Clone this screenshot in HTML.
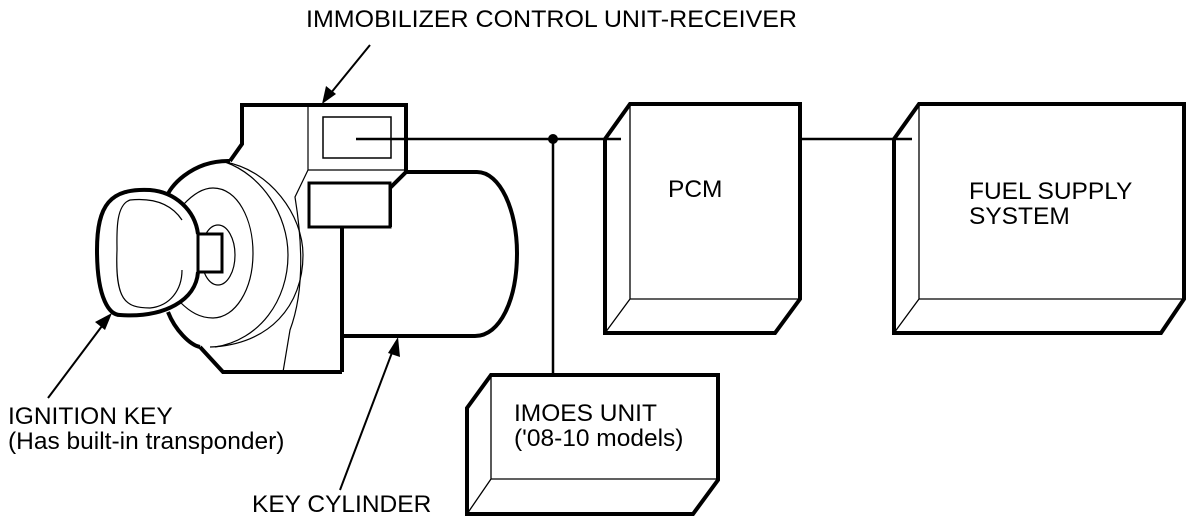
<!DOCTYPE html>
<html><head><meta charset="utf-8"><style>
html,body{margin:0;padding:0;background:#fff;width:1200px;height:522px;overflow:hidden}
svg{display:block}
text{font-family:"Liberation Sans",sans-serif;font-size:24.5px;fill:#000}
</style></head><body>
<svg width="1200" height="522" viewBox="0 0 1200 522" xmlns="http://www.w3.org/2000/svg">
<g fill="none" stroke="#000" stroke-linejoin="miter">
<!-- PCM -->
<path d="M605,139 L630,104 L800,104 L800,299 L775,333 L605,333 Z" stroke-width="4" fill="#fff"/>
<path d="M630,104 V299 H800 M630,299 L605,333" stroke-width="1.3"/>
<!-- Fuel -->
<path d="M894,139 L919,104 L1184,104 L1184,299 L1161,333 L894,333 Z" stroke-width="4" fill="#fff"/>
<path d="M919,104 V299 H1184 M919,299 L894,333" stroke-width="1.3"/>
<!-- IMOES -->
<path d="M467,408 L491,375 L718,375 L718,480 L693,514 L467,514 Z" stroke-width="4" fill="#fff"/>
<path d="M491,375 V479 H718 M491,479 L467,514" stroke-width="1.3"/>
<!-- wires -->
<path d="M356,139 H621 M800,139 H912 M553,139 V375" stroke-width="2.5"/>
<!-- cylinder -->
<path d="M406,172 H477 C500,172 517,210 517,253 C517,300 500,336 475,336 H342 M342,227 V372" stroke-width="4" fill="#fff"/>
<!-- body -->
<path d="M230,161 L242,144 L242,105 L406,105 L406,172 L390,188 L390,227 M342,372 H223 L200,347" stroke-width="4"/>
<rect x="309" y="183" width="81" height="44" stroke-width="3" fill="#fff"/>
<rect x="323" y="117" width="68" height="41" stroke-width="1.5"/>
<path d="M308,105 V170 H406 M308,170 L295,197 C302,240 305,290 290,330 L283,372" stroke-width="1.2"/>
<!-- disc -->
<path d="M230,161 C190,160 168,190 168,195 M168,312 C175,330 190,345 200,347" stroke-width="4"/>
<path d="M225,162 C270,170 303,215 303,255 C303,305 270,345 210,347" stroke-width="1.2"/>
<path d="M225,162 C262,175 288,215 288,255 C288,300 260,340 215,347" stroke-width="1.2"/>
<path d="M183,205 C195,192 205,188 213,188 C238,188 253,220 253,253 C253,290 235,318 213,318 C200,318 190,312 180,302" stroke-width="1.2"/>
<ellipse cx="218" cy="255" rx="17" ry="30" stroke-width="1.2"/>
<!-- key -->
<path d="M198,234 C195,210 175,192 150,190 C110,188 97,205 97,250 C97,300 110,315 120,315 C165,318 196,300 198,272" stroke-width="4" fill="#fff"/>
<path d="M182,220 C170,202 150,198 130,200 C115,205 117,235 117,250 C115,300 125,308 150,308 C170,306 182,290 182,270" stroke-width="1.2"/>
<rect x="198" y="234" width="24" height="38" stroke-width="3" fill="#fff"/>
<!-- arrows -->
<path d="M370,45 L326,99 M48,398 L108,318 M340,490 L396,342" stroke-width="2"/>
</g>
<g fill="#000">
<circle cx="553" cy="139" r="5"/>
<polygon points="322,104 326,86 336,94"/>
<polygon points="112,313 95,322 105,330"/>
<polygon points="398,337 388,353 400,357"/>
</g>
<text x="306" y="27" textLength="491" lengthAdjust="spacingAndGlyphs">IMMOBILIZER CONTROL UNIT-RECEIVER</text>
<text x="668" y="197">PCM</text>
<text x="969" y="199">FUEL SUPPLY</text>
<text x="969" y="224">SYSTEM</text>
<text x="514" y="421">IMOES UNIT</text>
<text x="514" y="446">('08-10 models)</text>
<text x="8" y="424">IGNITION KEY</text>
<text x="8" y="449">(Has built-in transponder)</text>
<text x="252" y="512">KEY CYLINDER</text>
</svg>
</body></html>
